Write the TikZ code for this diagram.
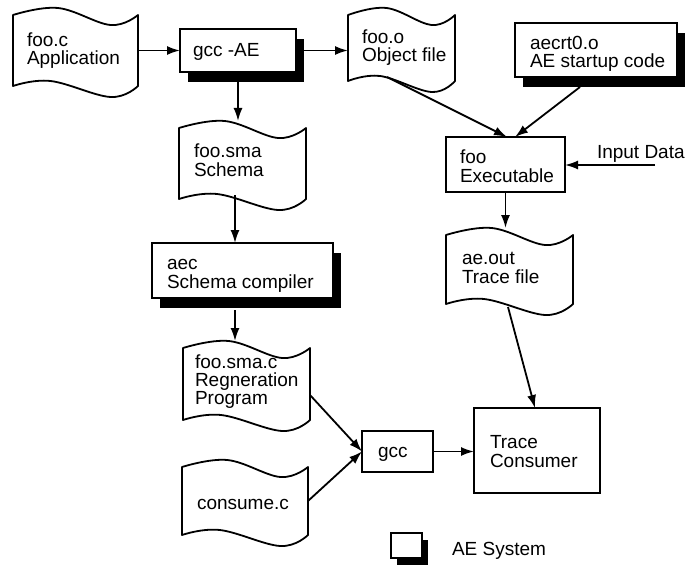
\documentclass[tikz,border=0pt]{standalone}
\usepackage{fontspec}
\setmainfont{Liberation Sans}
\usetikzlibrary{arrows.meta,calc,shadows}
\tikzset{
  every node/.style={inner sep=0pt,outer sep=0pt},
  arr/.style={line width=1.8pt,-{Latex[length=13pt,width=9pt]}},
  docline/.style={line width=1.8pt,fill=white,line join=round},
  docarea/.style={draw=none,rectangle},
  plainbox/.style={draw,line width=1.8pt,fill=white,rectangle,anchor=north west},
  aebox/.style={plainbox,drop shadow={shadow xshift=8pt,shadow yshift=-10pt,opacity=1,fill=black}},
  txt/.style={anchor=base west,align=left,font=\fontsize{19}{18.8}\selectfont},
}
% name, x0, ytop, x1, ybottom
\newcommand\docshape[5]{%
  \pgfmathsetmacro\dcw{#4-#2}%
  \pgfmathsetmacro\dch{#5-#3}%
  \pgfmathsetmacro\dxa{#2+0.36*\dcw}%
  \pgfmathsetmacro\dxb{#2+0.78*\dcw}%
  \pgfmathsetmacro\dxc{#2+0.3*\dcw}%
  \draw[docline] plot[smooth,tension=0.65] coordinates {(#2,#3) (\dxa,#3-7) (\dxb,#3+10) (#4,#3)}
     -- plot[smooth,tension=0.65] coordinates {(#4,#5) (\dxb,#5+11) (\dxc,#5-5) (#2,#5)} -- cycle;
  \node[docarea,minimum width=\dcw,minimum height=\dch,anchor=north west] (#1) at (#2,#3) {};
}
\begin{document}
\begin{tikzpicture}[x=1pt,y=-1pt]
\useasboundingbox (0,0) rectangle (687,567);

% documents
\docshape{fooc}{13}{15}{138}{86}
\docshape{fooo}{348}{15}{455}{81}
\docshape{sma}{179}{128}{306}{199}
\docshape{aeout}{446}{235}{573}{304}
\docshape{smac}{183}{348}{310}{420}
\docshape{consume}{182}{467}{308}{535}

% boxes
\node[aebox,minimum width=116,minimum height=43] (gccae) at (180,29) {};
\node[aebox,minimum width=162,minimum height=54] (aecrt) at (515,23) {};
\node[aebox,minimum width=181,minimum height=55] (aec) at (152,243) {};
\node[plainbox,minimum width=119,minimum height=55] (exe) at (446,137) {};
\node[plainbox,minimum width=71,minimum height=41] (gcc) at (362,431) {};
\node[plainbox,minimum width=126,minimum height=85] (cons) at (474,408) {};
\node[plainbox,minimum width=31,minimum height=25,
      drop shadow={shadow xshift=6pt,shadow yshift=-7pt,opacity=1,fill=black}] (legend) at (391,533) {};

% texts (anchored at the baseline of the last line)
\node[txt] (fooc-t) at (27,65) {foo.c\\Application};
\node[txt] (gccae-t) at (193,57) {gcc -AE};
\node[txt] (fooo-t) at (362,62) {foo.o\\Object file};
\node[txt] (aecrt-t) at (530,68) {aecrt0.o\\AE startup code};
\node[txt] (exe-t) at (460,182) {foo\\Executable};
\node[txt] (input) at (597,158) {Input Data};
\node[txt] (sma-t) at (194,176) {foo.sma\\Schema};
\node[txt] (aec-t) at (167,288) {aec\\Schema compiler};
\node[txt] (aeout-t) at (462,283) {ae.out\\Trace file};
\node[txt,font=\fontsize{19}{17.8}\selectfont] (smac-t) at (195,404) {foo.sma.c\\Regneration\\Program};
\node[txt] (consume-t) at (197,509) {consume.c};
\node[txt] (gcc-t) at (378,457) {gcc};
\node[txt] (cons-t) at (490,467) {Trace\\Consumer};
\node[txt] (legend-t) at (452,555) {AE System};

% connector end points on wavy outlines / shadows
\coordinate (smaIn) at (237,121);
\coordinate (smaOut) at (235,195);
\coordinate (aecOut) at (235,310);
\coordinate (smacIn) at (235,341);
\coordinate (smacR) at (310,395);
\coordinate (foooOut) at (387,77);
\coordinate (aecrtOut) at (580,87);
\coordinate (exeIn1) at (507,137);
\coordinate (exeIn2) at (515,137);
\coordinate (inputStart) at (655,165);
\coordinate (aeoutIn) at (504,228);
\coordinate (aeoutOut) at (508,307);
\coordinate (consIn) at (535,408);

% connectors
\draw[arr] (fooc.east) -- (gccae.west);
\draw[arr] ($(gccae.east)+(8,0)$) -- (fooo.west |- gccae.east);
\draw[arr] ($(gccae.south)+(0,10)$) -- (gccae.south |- smaIn);
\draw[arr] (smaOut) -- (smaOut |- aec.north);
\draw[arr] (aecOut) -- (smacIn);
\draw[arr] (smacR) -- (gcc.west);
\draw[arr] (consume.east) -- (gcc.west);
\draw[arr] (gcc.east) -- (cons.west |- gcc.east);
\draw[arr] (foooOut) -- (exeIn1);
\draw[arr] (aecrtOut) -- (exeIn2);
\draw[arr] (inputStart) -- (exe.east |- inputStart);
\draw[arr] (exe.south) -- (exe.south |- aeoutIn);
\draw[arr] (aeoutOut) -- (consIn);
\end{tikzpicture}
\end{document}
